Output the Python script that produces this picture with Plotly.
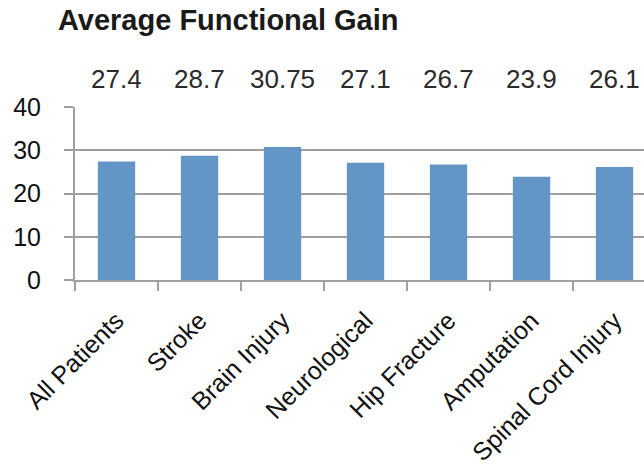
import plotly.graph_objects as go

categories = ["All Patients", "Stroke", "Brain Injury", "Neurological",
              "Hip Fracture", "Amputation", "Spinal Cord Injury"]
gains = [27.4, 28.7, 30.75, 27.1, 26.7, 23.9, 26.1]
gain_labels = ["27.4", "28.7", "30.75", "27.1", "26.7", "23.9", "26.1"]
y_ticks = [0, 10, 20, 30, 40]

fig = go.Figure()
fig.add_trace(go.Bar(
    x=categories, y=gains,
    marker=dict(color="#6396C6", line=dict(width=0)),
    hoverinfo="x+y",
))

for cat, lab in zip(categories, gain_labels):
    fig.add_annotation(
        x=cat, xref="x", y=1, yref="paper",
        text=lab, showarrow=False,
        yanchor="middle", yshift=28,
        font=dict(family="Liberation Sans", size=26, color="#2a2a2a"),
    )

fig.update_layout(
    width=644, height=470,
    margin=dict(l=75, r=0, t=107, b=190, autoexpand=False),
    paper_bgcolor="white", plot_bgcolor="white",
    bargap=0.55,
    showlegend=False,
    title=dict(
        text="<b>Average Functional Gain</b>",
        xref="container", x=0.09, xanchor="left",
        yref="container", y=0.958, yanchor="middle",
        font=dict(family="Liberation Sans", size=29, color="#1a1a1a"),
    ),
    xaxis=dict(
        type="category",
        automargin=False,
        range=[-0.5, 6.355],
        tickangle=-45,
        tickson="boundaries",
        ticks="outside", ticklen=9, tickwidth=2, tickcolor="#a0a0a0",
        showline=True, linecolor="#a0a0a0", linewidth=2,
        showgrid=False,
        tickfont=dict(family="Liberation Sans", size=25, color="#111111"),
        ticklabelstandoff=14,
    ),
    yaxis=dict(
        automargin=False,
        range=[0, 40],
        tickvals=y_ticks,
        ticks="outside", ticklen=9, tickwidth=2, tickcolor="#a0a0a0",
        showline=True, linecolor="#a0a0a0", linewidth=2,
        showgrid=True, gridcolor="#a0a0a0", gridwidth=2,
        zeroline=False,
        tickfont=dict(family="Liberation Sans", size=25, color="#111111"),
        ticklabelstandoff=18,
    ),
)

fig.write_html("out.html", config={"displayModeBar": False},
               post_script="document.body.style.margin='0px';")
